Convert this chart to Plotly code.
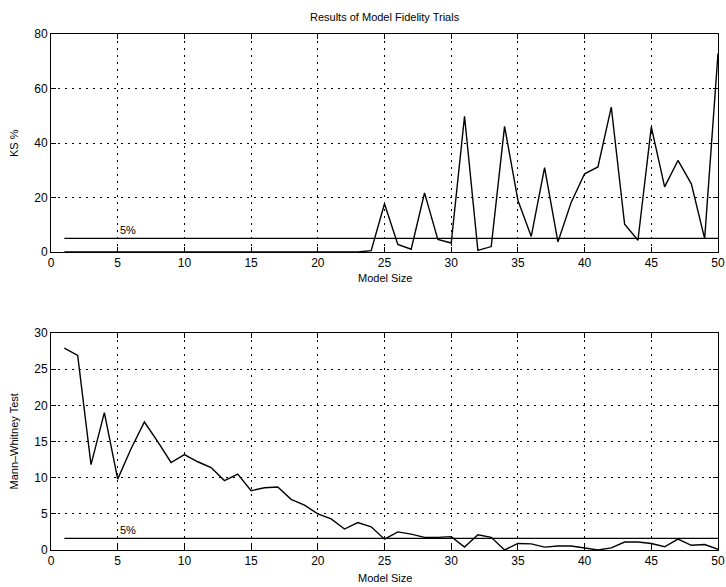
import plotly.graph_objects as go

model_size = list(range(1, 51))
ks_pct = [0]*23 + [0.5, 17.7, 2.8, 1.0, 21.7, 4.6, 3.3, 49.8, 0.6, 2.0, 46.1, 19.0, 5.7,
                   31.0, 3.7, 18.3, 28.7, 31.2, 53.2, 10.2, 4.3, 45.9, 23.9, 33.6, 25.0, 4.9, 72.8]
mann_whitney = [27.9, 26.9, 11.8, 19.0, 9.8, 14.0, 17.7, 15.0, 12.1, 13.2,
                12.2, 11.4, 9.6, 10.5, 8.2, 8.6, 8.7, 7.0, 6.2, 5.0,
                4.3, 2.9, 3.8, 3.2, 1.5, 2.5, 2.2, 1.75, 1.75, 1.85,
                0.4, 2.1, 1.75, 0.0, 0.9, 0.85, 0.4, 0.55, 0.55, 0.25,
                0.0, 0.3, 1.1, 1.1, 0.9, 0.45, 1.5, 0.65, 0.75, 0.1]
ks_threshold = 5
mw_threshold = 1.6
threshold_x = [1, 50]

FONT = "Liberation Sans, Arial, sans-serif"

fig = go.Figure()
fig.add_trace(go.Scatter(x=model_size, y=ks_pct, mode="lines",
                         line=dict(color="black", width=1.4), xaxis="x", yaxis="y", showlegend=False))
fig.add_trace(go.Scatter(x=threshold_x, y=[ks_threshold]*2, mode="lines",
                         line=dict(color="black", width=1.2), xaxis="x", yaxis="y", showlegend=False))
fig.add_trace(go.Scatter(x=model_size, y=mann_whitney, mode="lines",
                         line=dict(color="black", width=1.4), xaxis="x2", yaxis="y2", showlegend=False))
fig.add_trace(go.Scatter(x=threshold_x, y=[mw_threshold]*2, mode="lines",
                         line=dict(color="black", width=1.2), xaxis="x2", yaxis="y2", showlegend=False))

axis_common = dict(showline=True, linecolor="black", linewidth=1, mirror="ticks",
                   ticks="inside", ticklen=5, tickcolor="black",
                   showgrid=True, gridcolor="black", gridwidth=1, griddash="2px,5px",
                   zeroline=False, automargin=False,
                   tickfont=dict(size=12, color="black", family=FONT))

fig.update_layout(
    width=726, height=587,
    margin=dict(l=51, r=8, t=34, b=37),
    paper_bgcolor="white", plot_bgcolor="white",
    font=dict(family=FONT, color="black", size=12),
    xaxis=dict(domain=[0, 1], range=[0, 50], dtick=5, anchor="y", **axis_common),
    yaxis=dict(domain=[0.5775, 1.0], range=[0, 80], dtick=20, anchor="x", **axis_common),
    xaxis2=dict(domain=[0, 1], range=[0, 50], dtick=5, anchor="y2", **axis_common),
    yaxis2=dict(domain=[0, 0.4205], range=[0, 30], dtick=5, anchor="x2", **axis_common),
)

anns = [
    dict(text="Results of Model Fidelity Trials", xref="paper", yref="paper", x=0.5, y=1.0,
         yshift=17, showarrow=False, yanchor="middle", font=dict(size=11)),
    dict(text="5%", xref="x", yref="y", x=5, y=ks_threshold, xanchor="left", yanchor="bottom",
         showarrow=False, font=dict(size=11)),
    dict(text="5%", xref="x2", yref="y2", x=5, y=mw_threshold, xanchor="left", yanchor="bottom",
         showarrow=False, font=dict(size=11)),
    dict(text="Model Size", xref="paper", yref="paper", x=0.5, y=0.5775, yshift=-26,
         showarrow=False, yanchor="middle", font=dict(size=11)),
    dict(text="Model Size", xref="paper", yref="paper", x=0.5, y=0.0, yshift=-28,
         showarrow=False, yanchor="middle", font=dict(size=11)),
    dict(text="KS %", xref="paper", yref="paper", x=0, xshift=-37, y=(0.5775 + 1.0) / 2,
         showarrow=False, textangle=-90, xanchor="center", yanchor="middle", font=dict(size=11)),
    dict(text="Mann–Whitney Test", xref="paper", yref="paper", x=0, xshift=-37, y=0.4205 / 2,
         showarrow=False, textangle=-90, xanchor="center", yanchor="middle", font=dict(size=11)),
]
fig.update_layout(annotations=anns)

fig.write_html("out.html", config={"displayModeBar": False},
               post_script="document.body.style.margin='0';document.body.style.overflow='hidden';")
